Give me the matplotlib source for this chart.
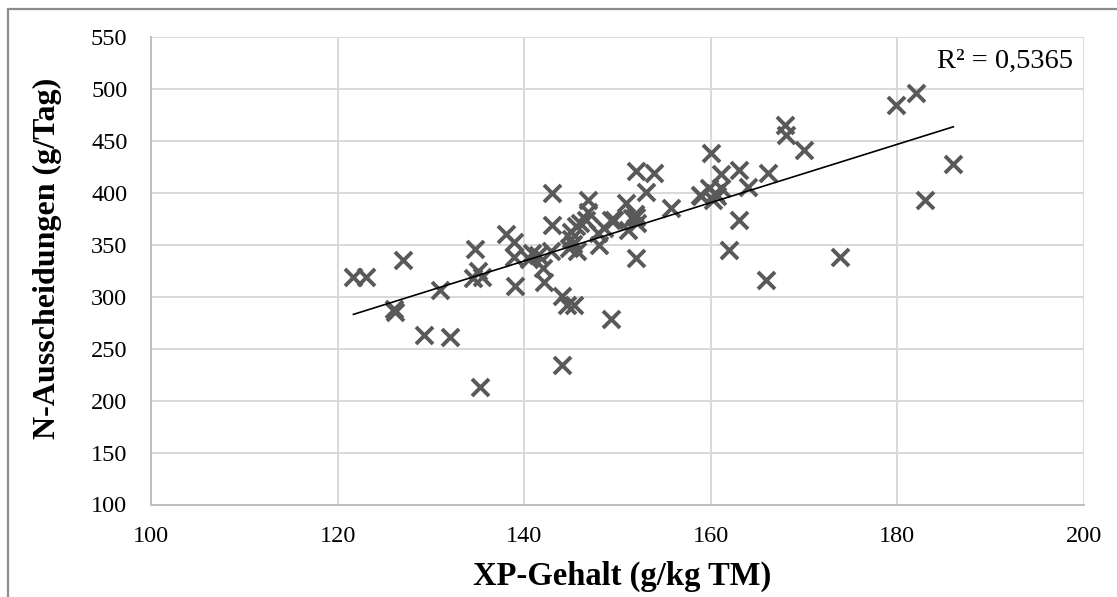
import matplotlib
matplotlib.use("Agg")
import matplotlib.pyplot as plt
from matplotlib.patches import Rectangle
import numpy as np

# XP-Gehalt (g/kg TM) and N-Ausscheidungen (g/Tag)
xp = [121.7, 123.0, 126.0, 126.2, 127.0, 129.3, 131.0, 132.0, 134.7, 134.5,
      135.0, 135.5, 135.3, 138.0, 138.9, 138.9, 139.0, 140.5, 140.8, 141.5,
      142.0, 142.1, 143.0, 143.0, 142.9, 144.0, 144.6, 145.3, 144.0, 145.0,
      145.0, 145.2, 144.8, 145.5, 145.7, 146.0, 146.8, 146.8, 147.9, 148.0,
      148.6, 149.3, 149.3, 150.9, 151.1, 152.0, 152.0, 152.1, 152.0, 153.1,
      153.9, 155.7, 159.0, 160.0, 159.8, 160.4, 161.1, 161.1, 160.7, 163.0,
      163.0, 162.0, 164.0, 166.1, 165.9, 167.9, 168.1, 170.0, 173.9, 179.9,
      182.0, 183.0, 186.0, 146.6, 149.6, 151.6, 151.9, 158.8, 160.2]
n_aus = [319, 319, 288, 285, 335, 263, 306, 261, 346, 318,
         325, 319, 213, 360, 353, 338, 310, 336, 342, 340,
         328, 314, 400, 369, 344, 301, 292, 292, 234, 362,
         356, 351, 347, 368, 344, 371, 393, 382, 361, 350,
         366, 374, 279, 390, 364, 421, 377, 371, 337, 401,
         419, 385, 397, 438, 405, 400, 418, 405, 397, 422,
         374, 345, 406, 419, 316, 465, 456, 441, 338, 485,
         496, 393, 428, 374, 374, 376, 380, 398, 393]

r2_text = "R² = 0,5365"

plt.rcParams['font.family'] = ['Liberation Serif', 'DejaVu Serif']

fig = plt.figure(figsize=(11.17, 5.97), dpi=100)
ax = fig.add_axes([151 / 1117, 1 - 504.5 / 597, 933 / 1117, 467.5 / 597])

# outer chart border (only top and left visible in the reference)
fig.patches.append(Rectangle((8 / 1117, -0.1), 1.2, 1 - 9 / 597 + 0.1,
                             transform=fig.transFigure, fill=False,
                             edgecolor="#8c8c8c", linewidth=1.6))

ax.scatter(xp, n_aus, marker="x", s=150, color="#595959", linewidths=2.8, zorder=3)

# linear trend line
coef = np.polyfit(xp, n_aus, 1)
xs = np.array([min(xp), max(xp)])
ax.plot(xs, np.polyval(coef, xs), color="black", linewidth=1.2, zorder=4)

ax.set_xlim(100, 200)
ax.set_ylim(100, 550)
ax.set_xticks(range(100, 201, 20))
ax.set_yticks(range(100, 551, 50))
ax.grid(True, color="#d9d9d9", linewidth=1.4)
ax.set_axisbelow(True)
for side in ["top", "right"]:
    ax.spines[side].set_visible(False)
for side in ["left", "bottom"]:
    ax.spines[side].set_color("#bfbfbf")
    ax.spines[side].set_linewidth(1.4)
ax.tick_params(axis="x", length=0, pad=15.5, labelsize=17.5)
ax.tick_params(axis="y", length=0, pad=17, labelsize=17.5)

ax.set_xlabel("XP-Gehalt (g/kg TM)", fontsize=23.5, fontweight="bold", va="center")
ax.set_ylabel("N-Ausscheidungen (g/Tag)", fontsize=23, fontweight="bold", va="center")
ax.xaxis.set_label_coords(0.505, -0.153)
ax.yaxis.set_label_coords(-0.111, 0.527)

ax.text(0.988, 0.947, r2_text, transform=ax.transAxes, ha="right", va="center",
        fontsize=20.5)

fig.savefig("out.png", dpi=100)
